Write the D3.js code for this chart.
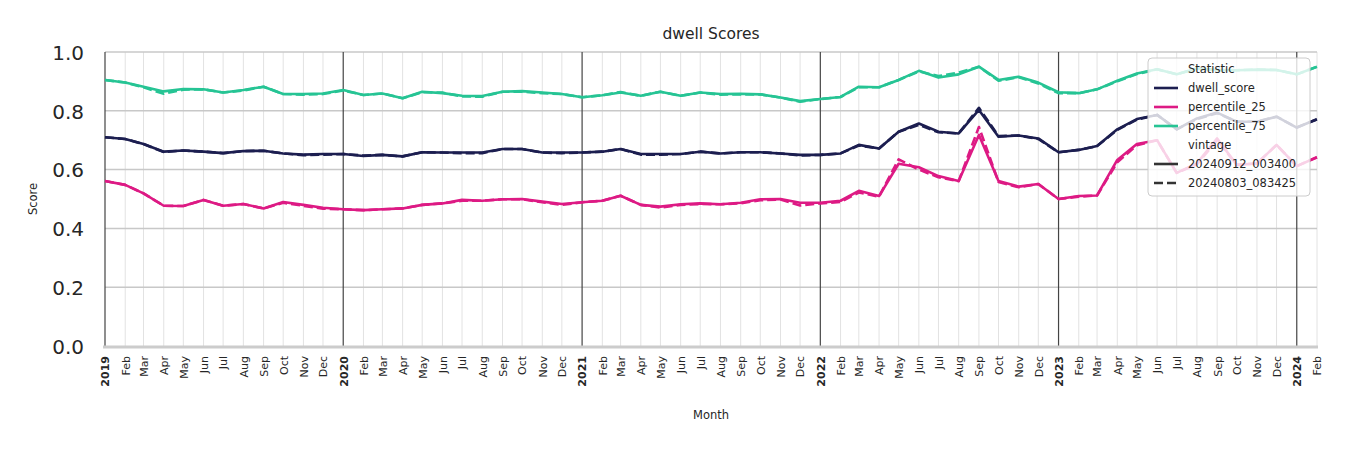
<!DOCTYPE html>
<html><head><meta charset="utf-8">
<script src="https://cdn.jsdelivr.net/npm/d3@7"></script>
<style>
body{margin:0;background:#fff;}
svg{display:block;font-family:"DejaVu Sans",sans-serif;}
</style></head>
<body><svg id="c" width="1350" height="450"></svg>
<script>
// ---- data ----
const startMonth = "2019-01";
const monthCount = 62; // Jan 2019 .. Feb 2024
const statistics = ["dwell_score","percentile_25","percentile_75"];
const vintages = ["20240912_003400","20240803_083425"];
const yTicks = [0,0.2,0.4,0.6,0.8,1.0];
const monthNames = ["Jan","Feb","Mar","Apr","May","Jun","Jul","Aug","Sep","Oct","Nov","Dec"];

const dwellScoreNew = [0.710,0.704,0.687,0.661,0.665,0.661,0.656,0.663,0.664,0.655,0.651,0.653,
 0.653,0.646,0.650,0.645,0.659,0.658,0.658,0.658,0.670,0.670,0.658,0.658,
 0.658,0.661,0.670,0.653,0.653,0.653,0.661,0.655,0.659,0.659,0.655,0.650,
 0.650,0.655,0.684,0.672,0.729,0.757,0.729,0.723,0.803,0.712,0.716,0.706,
 0.659,0.667,0.680,0.737,0.772,0.786,0.737,0.774,0.794,0.763,0.763,0.780,
 0.743,0.771];
const dwellScoreOld = [0.710,0.704,0.687,0.660,0.665,0.661,0.656,0.663,0.664,0.655,0.649,0.651,
 0.653,0.648,0.650,0.645,0.659,0.658,0.656,0.656,0.670,0.670,0.658,0.656,
 0.658,0.661,0.670,0.651,0.651,0.653,0.661,0.655,0.659,0.659,0.655,0.648,
 0.650,0.655,0.682,0.672,0.729,0.752,0.727,0.723,0.810,0.714,0.716,0.704,
 0.659,0.667,0.680,0.735,0.770,0.786,0.737,0.772,0.792,0.763,0.763,0.780,
 0.743,0.771];
const p25New = [0.561,0.548,0.519,0.477,0.476,0.497,0.477,0.483,0.468,0.490,0.480,0.470,
 0.465,0.462,0.465,0.468,0.480,0.485,0.497,0.494,0.499,0.500,0.491,0.483,
 0.489,0.494,0.511,0.480,0.474,0.482,0.485,0.482,0.487,0.499,0.500,0.487,
 0.487,0.494,0.528,0.510,0.620,0.608,0.578,0.561,0.718,0.561,0.542,0.551,
 0.500,0.510,0.512,0.633,0.687,0.700,0.589,0.621,0.706,0.616,0.621,0.684,
 0.612,0.642];
const p25Old = [0.561,0.548,0.519,0.477,0.476,0.497,0.477,0.483,0.468,0.487,0.477,0.467,
 0.465,0.462,0.465,0.468,0.480,0.485,0.494,0.494,0.499,0.499,0.489,0.480,
 0.489,0.494,0.511,0.480,0.471,0.480,0.483,0.482,0.485,0.496,0.498,0.478,
 0.485,0.490,0.522,0.508,0.635,0.600,0.574,0.561,0.745,0.558,0.540,0.551,
 0.500,0.508,0.512,0.625,0.683,0.700,0.589,0.618,0.700,0.616,0.621,0.684,
 0.612,0.642];
const p75New = [0.905,0.896,0.882,0.866,0.874,0.873,0.862,0.871,0.882,0.857,0.857,0.859,
 0.871,0.854,0.859,0.843,0.865,0.860,0.851,0.850,0.865,0.867,0.862,0.857,
 0.846,0.853,0.862,0.851,0.865,0.851,0.862,0.857,0.858,0.856,0.845,0.833,
 0.840,0.847,0.882,0.880,0.905,0.936,0.913,0.924,0.950,0.905,0.916,0.896,
 0.863,0.860,0.873,0.902,0.927,0.941,0.924,0.944,0.939,0.938,0.940,0.939,
 0.924,0.950];
const p75Old = [0.905,0.896,0.880,0.858,0.872,0.873,0.862,0.869,0.882,0.857,0.855,0.857,
 0.869,0.854,0.859,0.843,0.863,0.862,0.849,0.848,0.865,0.865,0.860,0.857,
 0.846,0.853,0.864,0.851,0.865,0.851,0.862,0.855,0.856,0.856,0.845,0.831,
 0.840,0.847,0.880,0.880,0.905,0.934,0.918,0.930,0.950,0.902,0.914,0.893,
 0.860,0.860,0.873,0.900,0.925,0.941,0.924,0.944,0.939,0.938,0.940,0.939,
 0.924,0.950];

const colors = {dwell_score:"#1c1e50", percentile_25:"#dd1a84", percentile_75:"#26c494"};
const seriesData = {
  dwell_score:[dwellScoreNew,dwellScoreOld],
  percentile_25:[p25New,p25Old],
  percentile_75:[p75New,p75Old]
};

// ---- layout ----
const svg = d3.select("#c");
const L=105, R=1317, T=52, B=346;
const parse = d3.timeParse("%Y-%m");
const t0 = parse(startMonth);
const months = d3.range(monthCount).map(i=>d3.timeMonth.offset(t0,i));
const x = d3.scaleTime().domain([months[0],months[monthCount-1]]).range([L,R]);
const y = d3.scaleLinear().domain([0,1]).range([B,T]);

// minor vertical gridlines (months)
svg.append("g").selectAll("line").data(months.filter(m=>m.getMonth()!==0)).join("line")
  .attr("x1",d=>x(d)).attr("x2",d=>x(d)).attr("y1",T).attr("y2",B)
  .attr("stroke","#e2e2e2").attr("stroke-width",1);
// horizontal grid
svg.append("g").selectAll("line").data(yTicks.filter(v=>v>0)).join("line")
  .attr("x1",L).attr("x2",R).attr("y1",d=>y(d)).attr("y2",d=>y(d))
  .attr("stroke","#c8c8c8").attr("stroke-width",1.5);
// year lines
svg.append("g").selectAll("line").data(months.filter(m=>m.getMonth()===0)).join("line")
  .attr("x1",d=>x(d)).attr("x2",d=>x(d)).attr("y1",T).attr("y2",B)
  .attr("stroke","#444").attr("stroke-width",1.2);
// bottom axis line
svg.append("line").attr("x1",L-2).attr("x2",R+1).attr("y1",B+1).attr("y2",B+1)
  .attr("stroke","#cccccc").attr("stroke-width",3);

// y tick labels
const yAxis = d3.axisLeft(y).tickValues(yTicks).tickFormat(d3.format(".1f")).tickSize(0).tickPadding(21);
const gy = svg.append("g").attr("transform",`translate(${L},0)`).call(yAxis);
gy.select(".domain").remove();
gy.selectAll("text").attr("font-size",20).attr("fill","#262626")
  .attr("font-family","DejaVu Sans, sans-serif").attr("dy","0.36em");

// x tick labels
const xAxis = d3.axisBottom(x).tickValues(months).tickSize(0)
  .tickFormat(d=>d.getMonth()===0 ? d3.timeFormat("%Y")(d) : monthNames[d.getMonth()]);
const gx = svg.append("g").attr("transform",`translate(0,${B})`).call(xAxis);
gx.select(".domain").remove();
gx.selectAll("text")
  .attr("transform","rotate(-90)")
  .attr("x",-10).attr("y",0).attr("dy","0.35em")
  .attr("text-anchor","end")
  .attr("font-size",11).attr("fill","#262626")
  .attr("font-family","DejaVu Sans, sans-serif")
  .attr("font-weight",d=>d.getMonth()===0?"bold":"normal");

// lines
const line = d3.line().x((d,i)=>x(months[i])).y(d=>y(d));
const gl = svg.append("g");
statistics.forEach(s=>{
  seriesData[s].forEach((arr,vi)=>{
    gl.append("path").datum(arr).attr("d",line).attr("fill","none")
      .attr("stroke",colors[s]).attr("stroke-width",2.6)
      .attr("stroke-linejoin","round")
      .attr("stroke-dasharray",vi===1?"9,4":null);
  });
});

// title & axis labels
svg.append("text").attr("x",(L+R)/2).attr("y",39).attr("text-anchor","middle")
  .attr("font-size",15.5).attr("fill","#262626").text("dwell Scores");
svg.append("text").attr("x",(L+R)/2).attr("y",419).attr("text-anchor","middle")
  .attr("font-size",11.5).attr("fill","#262626").text("Month");
svg.append("text").attr("transform",`translate(37,${(T+B)/2}) rotate(-90)`).attr("text-anchor","middle")
  .attr("font-size",11.5).attr("fill","#262626").text("Score");

// legend
const lg = svg.append("g").attr("transform","translate(1148,58)");
lg.append("rect").attr("width",162).attr("height",138).attr("rx",4)
  .attr("fill","white").attr("fill-opacity",0.8).attr("stroke","#cccccc").attr("stroke-width",1);
const legendRows = [
  {label:"Statistic", title:true},
  ...statistics.map(s=>({label:s, color:colors[s], dash:null})),
  {label:"vintage", title:true},
  {label:vintages[0], color:"#333", dash:null},
  {label:vintages[1], color:"#333", dash:"9,4"}
];
legendRows.forEach((r,i)=>{
  const yy = 11 + i*19;
  if(!r.title){
    lg.append("line").attr("x1",6).attr("x2",30).attr("y1",yy).attr("y2",yy)
      .attr("stroke",r.color).attr("stroke-width",2.6).attr("stroke-dasharray",r.dash);
  }
  lg.append("text").attr("x",40).attr("y",yy).attr("dy","0.35em")
    .attr("font-size",11.5).attr("fill","#262626").text(r.label);
});
</script></body></html>
